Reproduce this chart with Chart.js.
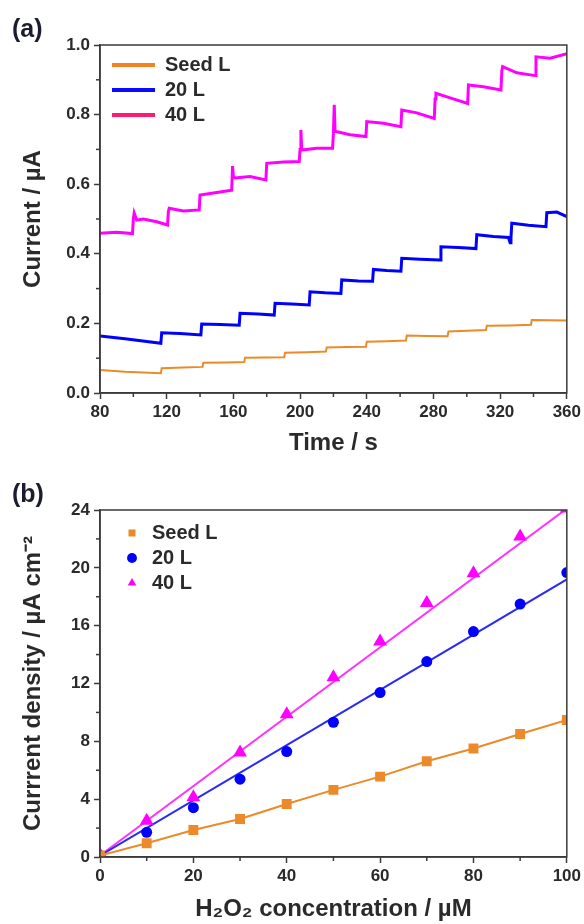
<!DOCTYPE html>
<html>
<head>
<meta charset="utf-8">
<script src="https://cdn.jsdelivr.net/npm/chart.js@4.4.0/dist/chart.umd.min.js"></script>
<style>
  html, body { margin: 0; padding: 0; background: #fff; }
  #wrapA { position: absolute; left: 0; top: 0; width: 584px; height: 470px; }
  #wrapB { position: absolute; left: 0; top: 470px; width: 584px; height: 454px; }
</style>
</head>
<body>
<div id="wrapA"><canvas id="chartA"></canvas></div>
<div id="wrapB"><canvas id="chartB"></canvas></div>
<script>
// Panel (a): amperometric current vs time
const seedT = [80, 95, 116.5, 117, 130, 141.5, 142, 155, 166.5, 167, 180, 190.5, 191, 204, 215.5, 216, 228, 239.5, 240, 252, 263.5, 264, 276, 288.5, 289, 300, 311.5, 312, 326, 338.5, 339, 350, 360];
const seedI = [0.066, 0.061, 0.057, 0.071, 0.073, 0.075, 0.087, 0.088, 0.089, 0.101, 0.102, 0.103, 0.116, 0.117, 0.119, 0.131, 0.132, 0.133, 0.147, 0.149, 0.151, 0.165, 0.164, 0.163, 0.177, 0.179, 0.181, 0.193, 0.194, 0.196, 0.210, 0.209, 0.208];

const t20 = [80, 95, 116.5, 117, 128, 140.5, 141, 152, 163.5, 164, 175, 184.5, 185, 195, 205.5, 206, 215, 224.5, 225, 235, 243.5, 244, 252, 260.5, 261, 272, 284, 284.5, 295, 305.5, 306, 316, 325, 326, 326.5, 327, 337, 347.5, 348, 354, 360];
const i20 = [0.164, 0.156, 0.143, 0.173, 0.171, 0.167, 0.198, 0.197, 0.195, 0.229, 0.227, 0.224, 0.258, 0.256, 0.253, 0.291, 0.288, 0.286, 0.325, 0.322, 0.321, 0.355, 0.352, 0.350, 0.387, 0.384, 0.382, 0.420, 0.418, 0.415, 0.455, 0.450, 0.447, 0.432, 0.446, 0.488, 0.482, 0.478, 0.518, 0.520, 0.507];

const t40 = [80, 90, 99.5, 100, 100.5, 102, 106, 114, 120.5, 121, 121.5, 130, 139.5, 140, 150, 159, 159.5, 160, 161, 170, 179.5, 180, 190, 199.5, 200, 200.5, 201, 210, 219.5, 220, 220.5, 221, 230, 239.5, 240, 250, 260.5, 261, 270, 280.5, 281, 281.5, 290, 300.5, 301, 310, 320.5, 321, 321.5, 330, 341, 341.5, 350, 360];
const i40 = [0.459, 0.462, 0.458, 0.500, 0.517, 0.497, 0.500, 0.492, 0.483, 0.521, 0.531, 0.523, 0.526, 0.569, 0.576, 0.583, 0.652, 0.622, 0.618, 0.622, 0.612, 0.660, 0.664, 0.665, 0.700, 0.756, 0.698, 0.703, 0.703, 0.746, 0.828, 0.752, 0.742, 0.737, 0.780, 0.775, 0.765, 0.813, 0.805, 0.789, 0.845, 0.861, 0.848, 0.832, 0.885, 0.880, 0.871, 0.925, 0.938, 0.920, 0.912, 0.966, 0.962, 0.975];

// Panel (b): calibration points and fitted lines
const conc = [0, 10, 20, 30, 40, 50, 60, 70, 80, 90, 100];
const seedJ = [0.1, 0.95, 1.87, 2.63, 3.67, 4.64, 5.56, 6.62, 7.50, 8.51, 9.48];
const j20 = [0.1, 1.71, 3.41, 5.38, 7.29, 9.32, 11.37, 13.52, 15.59, 17.49, 19.67];
const j40 = [0.15, 2.51, 4.13, 7.22, 9.87, 12.44, 14.90, 17.56, 19.63, 22.17, 24.1];
const fitConc = [0, 100];
const fit20 = [0.1, 19.2];
const fit40 = [0.1, 24.1];

const FONT = "'Liberation Sans', Arial, Helvetica, sans-serif";
const INK = '#2a2a2a';
const AXIS = '#3a3a3a';
const ORANGE = '#ec8a2a';
const BLUE = '#0000ff';
const MAGENTA = '#ff00ff';

const pairs = (xs, ys) => xs.map((x, i) => ({ x: x, y: ys[i] }));

// top/right frame plus short minor ticks between the major ones
const framePlugin = {
  id: 'frame',
  afterDraw(chart) {
    const { ctx, chartArea: a } = chart;
    ctx.save();
    ctx.strokeStyle = AXIS;
    ctx.lineWidth = 1.5;
    ctx.strokeRect(a.left, a.top, a.right - a.left, a.bottom - a.top);
    ['x', 'y'].forEach(id => {
      const s = chart.scales[id];
      const vals = s.ticks.map(k => k.value);
      for (let i = 0; i < vals.length - 1; i++) {
        const p = s.getPixelForValue((vals[i] + vals[i + 1]) / 2);
        ctx.beginPath();
        if (id === 'x') { ctx.moveTo(p, a.bottom); ctx.lineTo(p, a.bottom + 4); }
        else { ctx.moveTo(a.left, p); ctx.lineTo(a.left - 4, p); }
        ctx.stroke();
      }
    });
    ctx.restore();
  }
};

// move the in-plot legend to where the figure has it
const legendSpot = {
  id: 'legendSpot',
  beforeDraw(chart, args, opts) {
    chart.legend.left = chart.chartArea.left + opts.dx;
    chart.legend.top = chart.chartArea.top + opts.dy;
  }
};

const tickFont = { family: FONT, size: 17, weight: 'bold' };
const titleFont = { family: FONT, size: 24, weight: 'bold' };
const legendFont = { family: FONT, size: 20, weight: 'bold' };

function xAxis(min, max, step, text, padBottom, height) {
  return {
    type: 'linear', min: min, max: max,
    ticks: { stepSize: step, color: INK, font: tickFont, padding: 3, maxRotation: 0, autoSkip: false },
    grid: { drawOnChartArea: false, tickLength: 6, tickColor: AXIS, tickWidth: 1.5 },
    border: { color: AXIS, width: 1.5 },
    title: { display: true, text: text, color: INK, font: titleFont, padding: { top: 0, bottom: padBottom } },
    afterFit(s) { s.height = height; }
  };
}

function yAxis(min, max, step, text, fmt) {
  return {
    type: 'linear', min: min, max: max,
    ticks: { stepSize: step, color: INK, font: tickFont, padding: 4, autoSkip: false, callback: fmt },
    grid: { drawOnChartArea: false, tickLength: 6, tickColor: AXIS, tickWidth: 1.5 },
    border: { color: AXIS, width: 1.5 },
    title: { display: true, text: text, color: INK, font: titleFont, padding: { top: 7, bottom: 0 } },
    afterFit(s) { s.width = 88; }
  };
}

const legendColorsA = ['#f58220', '#0a0aff', '#ff1a75'];

new Chart(document.getElementById('chartA'), {
  type: 'scatter',
  data: {
    datasets: [
      { label: 'Seed L', data: pairs(seedT, seedI), showLine: true, borderColor: ORANGE, backgroundColor: ORANGE, borderWidth: 2, pointRadius: 0 },
      { label: '20 L', data: pairs(t20, i20), showLine: true, borderColor: BLUE, backgroundColor: BLUE, borderWidth: 3, pointRadius: 0 },
      { label: '40 L', data: pairs(t40, i40), showLine: true, borderColor: MAGENTA, backgroundColor: MAGENTA, borderWidth: 3, pointRadius: 0 }
    ]
  },
  options: {
    responsive: true, maintainAspectRatio: false, animation: false,
    layout: { padding: { left: 12, right: 16, top: 0, bottom: 0 } },
    scales: {
      x: xAxis(80, 360, 40, 'Time / s', 12, 77),
      y: yAxis(0, 1, 0.2, 'Current / µA', v => v.toFixed(1))
    },
    plugins: {
      title: { display: true, text: '(a)', align: 'start', color: '#1c1c30', font: { family: FONT, size: 25, weight: 'bold' }, padding: { top: 15, bottom: 0 } },
      legend: {
        position: 'chartArea', align: 'start',
        labels: {
          color: INK, font: legendFont, boxWidth: 43, boxHeight: 4, padding: 5,
          generateLabels: chart => Chart.defaults.plugins.legend.labels.generateLabels(chart).map((item, i) =>
            Object.assign(item, { fillStyle: legendColorsA[i], strokeStyle: legendColorsA[i], lineWidth: 0 }))
        }
      },
      legendSpot: { dx: 7, dy: 5 },
      tooltip: { enabled: false }
    }
  },
  plugins: [framePlugin, legendSpot]
});

new Chart(document.getElementById('chartB'), {
  type: 'scatter',
  data: {
    datasets: [
      { label: 'Seed L', data: pairs(conc, seedJ), showLine: true, borderColor: ORANGE, backgroundColor: ORANGE, borderWidth: 2, pointStyle: 'rect', pointRadius: 7, pointBorderWidth: 0 },
      { label: '20 L', data: pairs(conc, j20), borderColor: BLUE, backgroundColor: BLUE, pointStyle: 'circle', pointRadius: 5.5, pointBorderWidth: 0 },
      { label: '40 L', data: pairs(conc, j40), borderColor: MAGENTA, backgroundColor: MAGENTA, pointStyle: 'triangle', pointRadius: 8, pointBorderWidth: 0 },
      { label: 'fit 20 L', data: pairs(fitConc, fit20), showLine: true, borderColor: '#2a2af5', borderWidth: 2, pointRadius: 0 },
      { label: 'fit 40 L', data: pairs(fitConc, fit40), showLine: true, borderColor: '#ff33ff', borderWidth: 2, pointRadius: 0 }
    ]
  },
  options: {
    responsive: true, maintainAspectRatio: false, animation: false,
    layout: { padding: { left: 12, right: 17, top: 0, bottom: 0 } },
    scales: {
      x: xAxis(0, 100, 20, 'H₂O₂ concentration / µM', 0, 67),
      y: yAxis(0, 24, 4, 'Currrent density / µA cm⁻²', v => v)
    },
    plugins: {
      title: { display: true, text: '(b)', align: 'start', color: '#1c1c30', font: { family: FONT, size: 25, weight: 'bold' }, padding: { top: 10, bottom: 0 } },
      legend: {
        position: 'chartArea', align: 'start',
        labels: {
          color: INK, font: legendFont, usePointStyle: true, boxWidth: 20, boxHeight: 7, padding: 5,
          filter: item => item.datasetIndex < 3
        }
      },
      legendSpot: { dx: 17, dy: 8 },
      tooltip: { enabled: false }
    }
  },
  plugins: [framePlugin, legendSpot]
});
</script>
</body>
</html>
